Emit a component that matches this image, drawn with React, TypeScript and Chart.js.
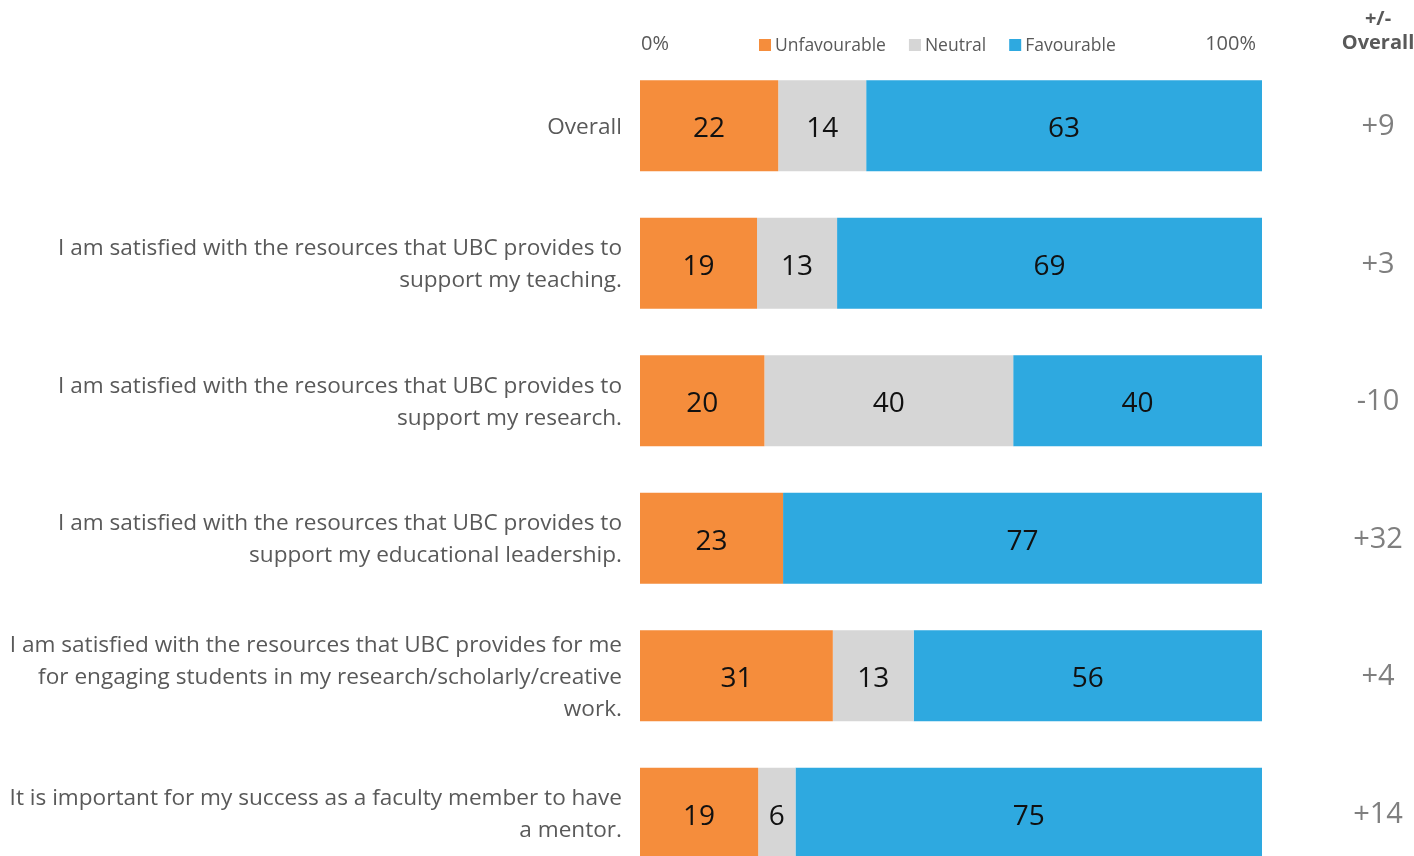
import React, { useEffect, useRef } from "react";
import { Chart, registerables } from "chart.js";

Chart.register(...registerables);

const categories: string[][] = [
  ["Overall"],
  ["I am satisfied with the resources that UBC provides to", "support my teaching."],
  ["I am satisfied with the resources that UBC provides to", "support my research."],
  ["I am satisfied with the resources that UBC provides to", "support my educational leadership."],
  [
    "I am satisfied with the resources that UBC provides for me",
    "for engaging students in my research/scholarly/creative",
    "work.",
  ],
  ["It is important for my success as a faculty member to have", "a mentor."],
];

const unfavourable = [22, 19, 20, 23, 31, 19];
const neutral = [14, 13, 40, 0, 13, 6];
const favourable = [63, 69, 40, 77, 56, 75];
const overallDiff = ["+9", "+3", "-10", "+32", "+4", "+14"];

const seriesNames = ["Unfavourable", "Neutral", "Favourable"];
const seriesColors = ["#F58D3C", "#D6D6D6", "#2EA9E0"];
const axisEndLabels = ["0%", "100%"];
const headerLines = ["+/-", "Overall"];

const FONT = "'Open Sans', 'Noto Sans', sans-serif";

const rawSeries = [unfavourable, neutral, favourable];
const totals = categories.map((_, i) => unfavourable[i] + neutral[i] + favourable[i]);
const pct = (arr: number[]) => arr.map((v, i) => (v / totals[i]) * 100);

const overlayPlugin = {
  id: "overlay",
  afterDatasetsDraw(chart: any) {
    const ctx = chart.ctx as CanvasRenderingContext2D;
    const { left, right } = chart.chartArea;
    ctx.save();

    // values inside bars
    ctx.font = `28px ${FONT}`;
    ctx.fillStyle = "#111111";
    ctx.textAlign = "center";
    ctx.textBaseline = "middle";
    chart.data.datasets.forEach((_: any, di: number) => {
      const meta = chart.getDatasetMeta(di);
      meta.data.forEach((el: any, i: number) => {
        const raw = rawSeries[di][i];
        if (!raw) return;
        const p = el.getCenterPoint();
        ctx.fillText(String(raw), p.x, p.y + 3.5);
      });
    });

    // 0% / 100% labels
    const topY = 45;
    ctx.font = `20px ${FONT}`;
    ctx.fillStyle = "#595959";
    ctx.textAlign = "left";
    ctx.fillText(axisEndLabels[0], left + 1, topY - 1);
    ctx.textAlign = "right";
    ctx.fillText(axisEndLabels[1], right - 6, topY - 1);

    // legend
    ctx.font = `17.5px ${FONT}`;
    ctx.textAlign = "left";
    let x = 759;
    seriesNames.forEach((name, i) => {
      ctx.fillStyle = seriesColors[i];
      ctx.fillRect(x, topY - 6, 12, 12);
      ctx.fillStyle = "#595959";
      ctx.fillText(name, x + 16, topY + 1);
      x += 16 + ctx.measureText(name).width + 23;
    });

    // header on right
    const colX = right + 116;
    ctx.font = `bold 20px ${FONT}`;
    ctx.fillStyle = "#595959";
    ctx.textAlign = "center";
    ctx.fillText(headerLines[0], colX, 19);
    ctx.fillText(headerLines[1], colX, 43);

    // right column values
    const yScale = chart.scales.y;
    ctx.font = `29px ${FONT}`;
    ctx.fillStyle = "#7F7F7F";
    overallDiff.forEach((t, i) => {
      ctx.fillText(t, colX, yScale.getPixelForValue(i) + 1);
    });

    ctx.restore();
  },
};

export default function App() {
  const canvasRef = useRef<HTMLCanvasElement | null>(null);

  useEffect(() => {
    if (!canvasRef.current) return;
    const chart = new Chart(canvasRef.current, {
      type: "bar",
      data: {
        labels: categories,
        datasets: seriesNames.map((name, i) => ({
          label: name,
          data: pct(rawSeries[i]),
          backgroundColor: seriesColors[i],
          borderWidth: 0,
          barPercentage: 0.662,
          categoryPercentage: 1,
        })),
      },
      options: {
        indexAxis: "y",
        responsive: false,
        animation: false,
        devicePixelRatio: 1,
        layout: { padding: { top: 57, right: 152, bottom: 0, left: 0 } },
        plugins: {
          legend: { display: false },
          tooltip: { enabled: false },
        },
        scales: {
          x: {
            stacked: true,
            min: 0,
            max: 100,
            display: false,
          },
          y: {
            stacked: true,
            grid: { display: false, drawTicks: false },
            border: { display: false },
            ticks: {
              padding: 18,
              labelOffset: 1.5,
              color: "#595959",
              font: { family: FONT, size: 22.6, lineHeight: 1.42 },
            },
            afterFit: (scale: any) => {
              scale.width = 640;
              scale.paddingTop = 0;
              scale.paddingBottom = 0;
            },
          },
        },
      },
      plugins: [overlayPlugin],
    });
    return () => chart.destroy();
  }, []);

  return (
    <div
      style={{
        position: "fixed",
        left: 0,
        top: 0,
        width: 1414,
        height: 856,
        overflow: "hidden",
        background: "#ffffff",
      }}
    >
      <canvas ref={canvasRef} width={1414} height={882} />
    </div>
  );
}
